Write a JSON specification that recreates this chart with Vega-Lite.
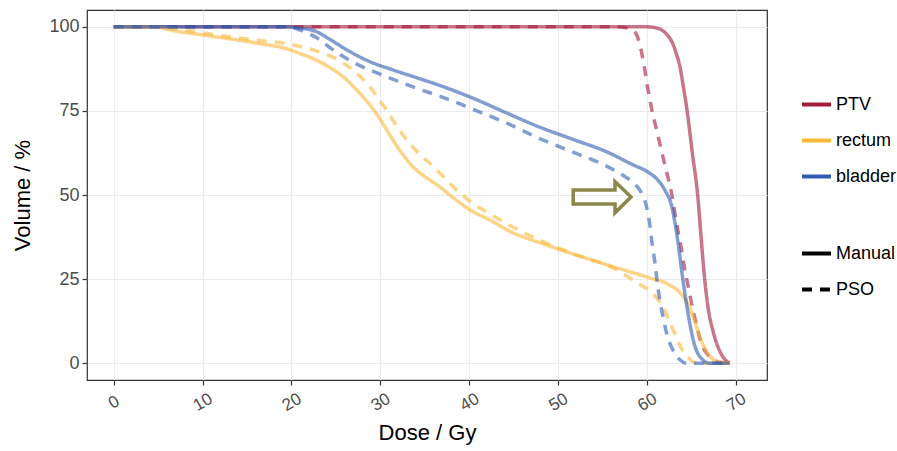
{
  "$schema": "https://vega.github.io/schema/vega-lite/v6.json",
  "width": 680,
  "height": 370,
  "autosize": "none",
  "padding": {"left": 87, "top": 10, "right": 130, "bottom": 71},
  "background": "white",
  "datasets": {
    "curves": [
      {"organ": "PTV", "plan": "Manual", "dose": 0, "vol": 100},
      {"organ": "PTV", "plan": "Manual", "dose": 60, "vol": 100},
      {"organ": "PTV", "plan": "Manual", "dose": 61, "vol": 99.7},
      {"organ": "PTV", "plan": "Manual", "dose": 61.8, "vol": 98.8},
      {"organ": "PTV", "plan": "Manual", "dose": 62.4, "vol": 97.2},
      {"organ": "PTV", "plan": "Manual", "dose": 62.9, "vol": 95},
      {"organ": "PTV", "plan": "Manual", "dose": 63.3, "vol": 92},
      {"organ": "PTV", "plan": "Manual", "dose": 63.7, "vol": 88.2},
      {"organ": "PTV", "plan": "Manual", "dose": 64.1, "vol": 82},
      {"organ": "PTV", "plan": "Manual", "dose": 64.5, "vol": 75.3},
      {"organ": "PTV", "plan": "Manual", "dose": 65.1, "vol": 62.5},
      {"organ": "PTV", "plan": "Manual", "dose": 65.7, "vol": 50},
      {"organ": "PTV", "plan": "Manual", "dose": 66.1, "vol": 37},
      {"organ": "PTV", "plan": "Manual", "dose": 66.5, "vol": 24.7},
      {"organ": "PTV", "plan": "Manual", "dose": 66.9, "vol": 16},
      {"organ": "PTV", "plan": "Manual", "dose": 67.4, "vol": 9.8},
      {"organ": "PTV", "plan": "Manual", "dose": 68.2, "vol": 3.5},
      {"organ": "PTV", "plan": "Manual", "dose": 68.8, "vol": 1},
      {"organ": "PTV", "plan": "Manual", "dose": 69.3, "vol": 0},
      {"organ": "PTV", "plan": "PSO", "dose": 0, "vol": 100},
      {"organ": "PTV", "plan": "PSO", "dose": 56.5, "vol": 100},
      {"organ": "PTV", "plan": "PSO", "dose": 57.4, "vol": 99.8},
      {"organ": "PTV", "plan": "PSO", "dose": 58.2, "vol": 99.2},
      {"organ": "PTV", "plan": "PSO", "dose": 58.8, "vol": 97.8},
      {"organ": "PTV", "plan": "PSO", "dose": 59.3, "vol": 93.5},
      {"organ": "PTV", "plan": "PSO", "dose": 59.7, "vol": 88},
      {"organ": "PTV", "plan": "PSO", "dose": 60.1, "vol": 81.5},
      {"organ": "PTV", "plan": "PSO", "dose": 60.5, "vol": 76},
      {"organ": "PTV", "plan": "PSO", "dose": 61.2, "vol": 68},
      {"organ": "PTV", "plan": "PSO", "dose": 62, "vol": 59},
      {"organ": "PTV", "plan": "PSO", "dose": 62.8, "vol": 50},
      {"organ": "PTV", "plan": "PSO", "dose": 63.3, "vol": 42},
      {"organ": "PTV", "plan": "PSO", "dose": 63.8, "vol": 35},
      {"organ": "PTV", "plan": "PSO", "dose": 64.2, "vol": 28.6},
      {"organ": "PTV", "plan": "PSO", "dose": 64.7, "vol": 22},
      {"organ": "PTV", "plan": "PSO", "dose": 65.1, "vol": 16.7},
      {"organ": "PTV", "plan": "PSO", "dose": 65.6, "vol": 11},
      {"organ": "PTV", "plan": "PSO", "dose": 66.1, "vol": 6},
      {"organ": "PTV", "plan": "PSO", "dose": 66.7, "vol": 3},
      {"organ": "PTV", "plan": "PSO", "dose": 67.5, "vol": 1},
      {"organ": "PTV", "plan": "PSO", "dose": 68.3, "vol": 0.2},
      {"organ": "PTV", "plan": "PSO", "dose": 69.3, "vol": 0},
      {"organ": "rectum", "plan": "Manual", "dose": 0, "vol": 100},
      {"organ": "rectum", "plan": "Manual", "dose": 5, "vol": 100},
      {"organ": "rectum", "plan": "Manual", "dose": 5.8, "vol": 99.4},
      {"organ": "rectum", "plan": "Manual", "dose": 10, "vol": 97.6},
      {"organ": "rectum", "plan": "Manual", "dose": 16, "vol": 95.2},
      {"organ": "rectum", "plan": "Manual", "dose": 19.8, "vol": 93.2},
      {"organ": "rectum", "plan": "Manual", "dose": 21, "vol": 92},
      {"organ": "rectum", "plan": "Manual", "dose": 22.4, "vol": 90.6},
      {"organ": "rectum", "plan": "Manual", "dose": 24, "vol": 88.4},
      {"organ": "rectum", "plan": "Manual", "dose": 25.3, "vol": 86.2},
      {"organ": "rectum", "plan": "Manual", "dose": 26.5, "vol": 83.5},
      {"organ": "rectum", "plan": "Manual", "dose": 27.6, "vol": 80.5},
      {"organ": "rectum", "plan": "Manual", "dose": 28.6, "vol": 77.5},
      {"organ": "rectum", "plan": "Manual", "dose": 29.6, "vol": 74},
      {"organ": "rectum", "plan": "Manual", "dose": 30.5, "vol": 70.3},
      {"organ": "rectum", "plan": "Manual", "dose": 31.8, "vol": 64.8},
      {"organ": "rectum", "plan": "Manual", "dose": 33.6, "vol": 58.6},
      {"organ": "rectum", "plan": "Manual", "dose": 35, "vol": 55.5},
      {"organ": "rectum", "plan": "Manual", "dose": 36.7, "vol": 52.4},
      {"organ": "rectum", "plan": "Manual", "dose": 38.3, "vol": 49},
      {"organ": "rectum", "plan": "Manual", "dose": 40, "vol": 45.7},
      {"organ": "rectum", "plan": "Manual", "dose": 42.3, "vol": 42.6},
      {"organ": "rectum", "plan": "Manual", "dose": 44.9, "vol": 38.8},
      {"organ": "rectum", "plan": "Manual", "dose": 48.3, "vol": 35.5},
      {"organ": "rectum", "plan": "Manual", "dose": 52.1, "vol": 32.1},
      {"organ": "rectum", "plan": "Manual", "dose": 55.8, "vol": 29},
      {"organ": "rectum", "plan": "Manual", "dose": 60, "vol": 25.6},
      {"organ": "rectum", "plan": "Manual", "dose": 62.5, "vol": 23.3},
      {"organ": "rectum", "plan": "Manual", "dose": 63.7, "vol": 21},
      {"organ": "rectum", "plan": "Manual", "dose": 64.3, "vol": 19},
      {"organ": "rectum", "plan": "Manual", "dose": 64.8, "vol": 16.5},
      {"organ": "rectum", "plan": "Manual", "dose": 65.3, "vol": 13},
      {"organ": "rectum", "plan": "Manual", "dose": 65.7, "vol": 9.8},
      {"organ": "rectum", "plan": "Manual", "dose": 66.2, "vol": 6.2},
      {"organ": "rectum", "plan": "Manual", "dose": 66.8, "vol": 3},
      {"organ": "rectum", "plan": "Manual", "dose": 67.5, "vol": 1},
      {"organ": "rectum", "plan": "Manual", "dose": 68.5, "vol": 0.2},
      {"organ": "rectum", "plan": "Manual", "dose": 69.3, "vol": 0},
      {"organ": "rectum", "plan": "PSO", "dose": 0, "vol": 100},
      {"organ": "rectum", "plan": "PSO", "dose": 5, "vol": 100},
      {"organ": "rectum", "plan": "PSO", "dose": 6, "vol": 99.7},
      {"organ": "rectum", "plan": "PSO", "dose": 8.5, "vol": 98.8},
      {"organ": "rectum", "plan": "PSO", "dose": 13.4, "vol": 96.9},
      {"organ": "rectum", "plan": "PSO", "dose": 16.1, "vol": 96},
      {"organ": "rectum", "plan": "PSO", "dose": 20.1, "vol": 94.7},
      {"organ": "rectum", "plan": "PSO", "dose": 21.5, "vol": 93.8},
      {"organ": "rectum", "plan": "PSO", "dose": 23.5, "vol": 92.2},
      {"organ": "rectum", "plan": "PSO", "dose": 25, "vol": 90.5},
      {"organ": "rectum", "plan": "PSO", "dose": 26.5, "vol": 88},
      {"organ": "rectum", "plan": "PSO", "dose": 27.7, "vol": 85.3},
      {"organ": "rectum", "plan": "PSO", "dose": 28.8, "vol": 82.2},
      {"organ": "rectum", "plan": "PSO", "dose": 29.7, "vol": 79},
      {"organ": "rectum", "plan": "PSO", "dose": 30.5, "vol": 76},
      {"organ": "rectum", "plan": "PSO", "dose": 31.4, "vol": 72.3},
      {"organ": "rectum", "plan": "PSO", "dose": 32.7, "vol": 67.3},
      {"organ": "rectum", "plan": "PSO", "dose": 34.1, "vol": 63},
      {"organ": "rectum", "plan": "PSO", "dose": 35.4, "vol": 59.8},
      {"organ": "rectum", "plan": "PSO", "dose": 36.7, "vol": 56.5},
      {"organ": "rectum", "plan": "PSO", "dose": 38, "vol": 53},
      {"organ": "rectum", "plan": "PSO", "dose": 39.3, "vol": 49.8},
      {"organ": "rectum", "plan": "PSO", "dose": 40.6, "vol": 47.2},
      {"organ": "rectum", "plan": "PSO", "dose": 42, "vol": 44.9},
      {"organ": "rectum", "plan": "PSO", "dose": 44.9, "vol": 40.5},
      {"organ": "rectum", "plan": "PSO", "dose": 48.7, "vol": 35.7},
      {"organ": "rectum", "plan": "PSO", "dose": 52.8, "vol": 31.5},
      {"organ": "rectum", "plan": "PSO", "dose": 55.8, "vol": 28.8},
      {"organ": "rectum", "plan": "PSO", "dose": 57.5, "vol": 26.3},
      {"organ": "rectum", "plan": "PSO", "dose": 58.8, "vol": 24},
      {"organ": "rectum", "plan": "PSO", "dose": 60.6, "vol": 20.8},
      {"organ": "rectum", "plan": "PSO", "dose": 61.8, "vol": 16.7},
      {"organ": "rectum", "plan": "PSO", "dose": 62.5, "vol": 12.5},
      {"organ": "rectum", "plan": "PSO", "dose": 63.1, "vol": 8.9},
      {"organ": "rectum", "plan": "PSO", "dose": 63.6, "vol": 5.8},
      {"organ": "rectum", "plan": "PSO", "dose": 64, "vol": 3.9},
      {"organ": "rectum", "plan": "PSO", "dose": 64.6, "vol": 1.8},
      {"organ": "rectum", "plan": "PSO", "dose": 65.1, "vol": 0.5},
      {"organ": "rectum", "plan": "PSO", "dose": 66, "vol": 0},
      {"organ": "rectum", "plan": "PSO", "dose": 69.3, "vol": 0},
      {"organ": "bladder", "plan": "Manual", "dose": 0, "vol": 100},
      {"organ": "bladder", "plan": "Manual", "dose": 19.5, "vol": 100},
      {"organ": "bladder", "plan": "Manual", "dose": 21, "vol": 99.6},
      {"organ": "bladder", "plan": "Manual", "dose": 22.8, "vol": 98.6},
      {"organ": "bladder", "plan": "Manual", "dose": 24.3, "vol": 96.3},
      {"organ": "bladder", "plan": "Manual", "dose": 26.2, "vol": 93.2},
      {"organ": "bladder", "plan": "Manual", "dose": 28.5, "vol": 90},
      {"organ": "bladder", "plan": "Manual", "dose": 31.4, "vol": 87.2},
      {"organ": "bladder", "plan": "Manual", "dose": 34.4, "vol": 84.6},
      {"organ": "bladder", "plan": "Manual", "dose": 37.5, "vol": 81.8},
      {"organ": "bladder", "plan": "Manual", "dose": 40.4, "vol": 78.8},
      {"organ": "bladder", "plan": "Manual", "dose": 44.2, "vol": 74.4},
      {"organ": "bladder", "plan": "Manual", "dose": 47.9, "vol": 70.2},
      {"organ": "bladder", "plan": "Manual", "dose": 51.6, "vol": 66.6},
      {"organ": "bladder", "plan": "Manual", "dose": 55.5, "vol": 62.8},
      {"organ": "bladder", "plan": "Manual", "dose": 58.4, "vol": 59},
      {"organ": "bladder", "plan": "Manual", "dose": 60, "vol": 57},
      {"organ": "bladder", "plan": "Manual", "dose": 61.2, "vol": 54.5},
      {"organ": "bladder", "plan": "Manual", "dose": 62, "vol": 51.5},
      {"organ": "bladder", "plan": "Manual", "dose": 62.8, "vol": 46.4},
      {"organ": "bladder", "plan": "Manual", "dose": 63.4, "vol": 37.5},
      {"organ": "bladder", "plan": "Manual", "dose": 64, "vol": 25.6},
      {"organ": "bladder", "plan": "Manual", "dose": 64.6, "vol": 15},
      {"organ": "bladder", "plan": "Manual", "dose": 65.4, "vol": 5},
      {"organ": "bladder", "plan": "Manual", "dose": 66.2, "vol": 1.2},
      {"organ": "bladder", "plan": "Manual", "dose": 67, "vol": 0},
      {"organ": "bladder", "plan": "Manual", "dose": 69.3, "vol": 0},
      {"organ": "bladder", "plan": "PSO", "dose": 0, "vol": 100},
      {"organ": "bladder", "plan": "PSO", "dose": 19.5, "vol": 100},
      {"organ": "bladder", "plan": "PSO", "dose": 21, "vol": 99},
      {"organ": "bladder", "plan": "PSO", "dose": 22.8, "vol": 96.8},
      {"organ": "bladder", "plan": "PSO", "dose": 24.6, "vol": 93.3},
      {"organ": "bladder", "plan": "PSO", "dose": 26.9, "vol": 89.5},
      {"organ": "bladder", "plan": "PSO", "dose": 29.9, "vol": 86},
      {"organ": "bladder", "plan": "PSO", "dose": 33.6, "vol": 82.2},
      {"organ": "bladder", "plan": "PSO", "dose": 37.5, "vol": 78.6},
      {"organ": "bladder", "plan": "PSO", "dose": 40.4, "vol": 75.5},
      {"organ": "bladder", "plan": "PSO", "dose": 44.2, "vol": 71.4},
      {"organ": "bladder", "plan": "PSO", "dose": 47.9, "vol": 66.8},
      {"organ": "bladder", "plan": "PSO", "dose": 51.6, "vol": 62.8},
      {"organ": "bladder", "plan": "PSO", "dose": 54.7, "vol": 59.5},
      {"organ": "bladder", "plan": "PSO", "dose": 57.2, "vol": 56},
      {"organ": "bladder", "plan": "PSO", "dose": 58.5, "vol": 53.5},
      {"organ": "bladder", "plan": "PSO", "dose": 59.3, "vol": 51},
      {"organ": "bladder", "plan": "PSO", "dose": 59.9, "vol": 47},
      {"organ": "bladder", "plan": "PSO", "dose": 60.3, "vol": 41.5},
      {"organ": "bladder", "plan": "PSO", "dose": 60.6, "vol": 35},
      {"organ": "bladder", "plan": "PSO", "dose": 60.9, "vol": 29.8},
      {"organ": "bladder", "plan": "PSO", "dose": 61.2, "vol": 23},
      {"organ": "bladder", "plan": "PSO", "dose": 61.5, "vol": 17.9},
      {"organ": "bladder", "plan": "PSO", "dose": 61.9, "vol": 12.5},
      {"organ": "bladder", "plan": "PSO", "dose": 62.3, "vol": 8},
      {"organ": "bladder", "plan": "PSO", "dose": 62.9, "vol": 4},
      {"organ": "bladder", "plan": "PSO", "dose": 63.7, "vol": 1},
      {"organ": "bladder", "plan": "PSO", "dose": 64.5, "vol": 0},
      {"organ": "bladder", "plan": "PSO", "dose": 69.3, "vol": 0}
    ],
    "arrow": [
      {"i": 1, "dose": 51.7, "vol": 51.5},
      {"i": 2, "dose": 56.4, "vol": 51.5},
      {"i": 3, "dose": 56.4, "vol": 54.0},
      {"i": 4, "dose": 58.2, "vol": 49.4},
      {"i": 5, "dose": 56.4, "vol": 44.7},
      {"i": 6, "dose": 56.4, "vol": 47.3},
      {"i": 7, "dose": 51.7, "vol": 47.3}
    ]
  },
  "layer": [
    {
      "data": {"name": "curves"},
      "mark": {"type": "line", "strokeWidth": 3.5, "opacity": 0.6, "strokeCap": "butt", "interpolate": "monotone"},
      "encoding": {
        "x": {
          "field": "dose", "type": "quantitative",
          "scale": {"domain": [-3.0, 73.5], "nice": false, "zero": false},
          "axis": {
            "title": "Dose / Gy", "values": [0, 10, 20, 30, 40, 50, 60, 70],
            "labelAngle": -30, "labelAlign": "center", "labelBaseline": "middle",
            "labelPadding": 17, "labelFontSize": 17, "titlePadding": 9
          }
        },
        "y": {
          "field": "vol", "type": "quantitative",
          "scale": {"domain": [-5, 105], "nice": false, "zero": false},
          "axis": {"title": "Volume / %", "values": [0, 25, 50, 75, 100], "titlePadding": 14}
        },
        "color": {
          "field": "organ", "type": "nominal",
          "scale": {"domain": ["PTV", "rectum", "bladder"], "range": ["#a51b3c", "#f8b839", "#2f5cb2"]},
          "legend": {
            "title": null, "orient": "none", "legendX": 713, "legendY": 78,
            "symbolType": "stroke", "symbolSize": 841, "symbolStrokeWidth": 4,
            "symbolOpacity": 1, "rowPadding": 10, "padding": 0, "labelOffset": 3
          }
        },
        "strokeDash": {
          "field": "plan", "type": "nominal",
          "scale": {"domain": ["Manual", "PSO"], "range": [[1, 0], [10, 8]]},
          "legend": {
            "title": null, "orient": "none", "legendX": 713, "legendY": 227,
            "symbolType": "stroke", "symbolSize": 841, "symbolStrokeWidth": 4,
            "symbolStrokeColor": "black", "symbolOpacity": 1, "rowPadding": 10,
            "padding": 0, "labelOffset": 3
          }
        },
        "detail": {"field": "organ"}
      }
    },
    {
      "data": {"name": "arrow"},
      "mark": {"type": "line", "interpolate": "linear-closed", "color": "#8a8748", "strokeWidth": 3.5, "strokeJoin": "miter"},
      "encoding": {
        "x": {"field": "dose", "type": "quantitative"},
        "y": {"field": "vol", "type": "quantitative"},
        "order": {"field": "i", "type": "quantitative"}
      }
    }
  ],
  "config": {
    "font": "Liberation Sans",
    "view": {"stroke": "#333333", "strokeWidth": 1.2},
    "axis": {
      "domain": false, "grid": true, "gridColor": "#ebebeb", "gridWidth": 1.2,
      "tickColor": "#333333", "tickSize": 5, "tickWidth": 1.2,
      "labelColor": "#4d4d4d", "labelFontSize": 18, "labelFont": "Liberation Sans",
      "labelPadding": 3,
      "titleColor": "black", "titleFontSize": 22, "titleFontWeight": "normal", "titleFont": "Liberation Sans"
    },
    "legend": {"labelFontSize": 18, "labelColor": "black", "labelFont": "Liberation Sans"}
  }
}
